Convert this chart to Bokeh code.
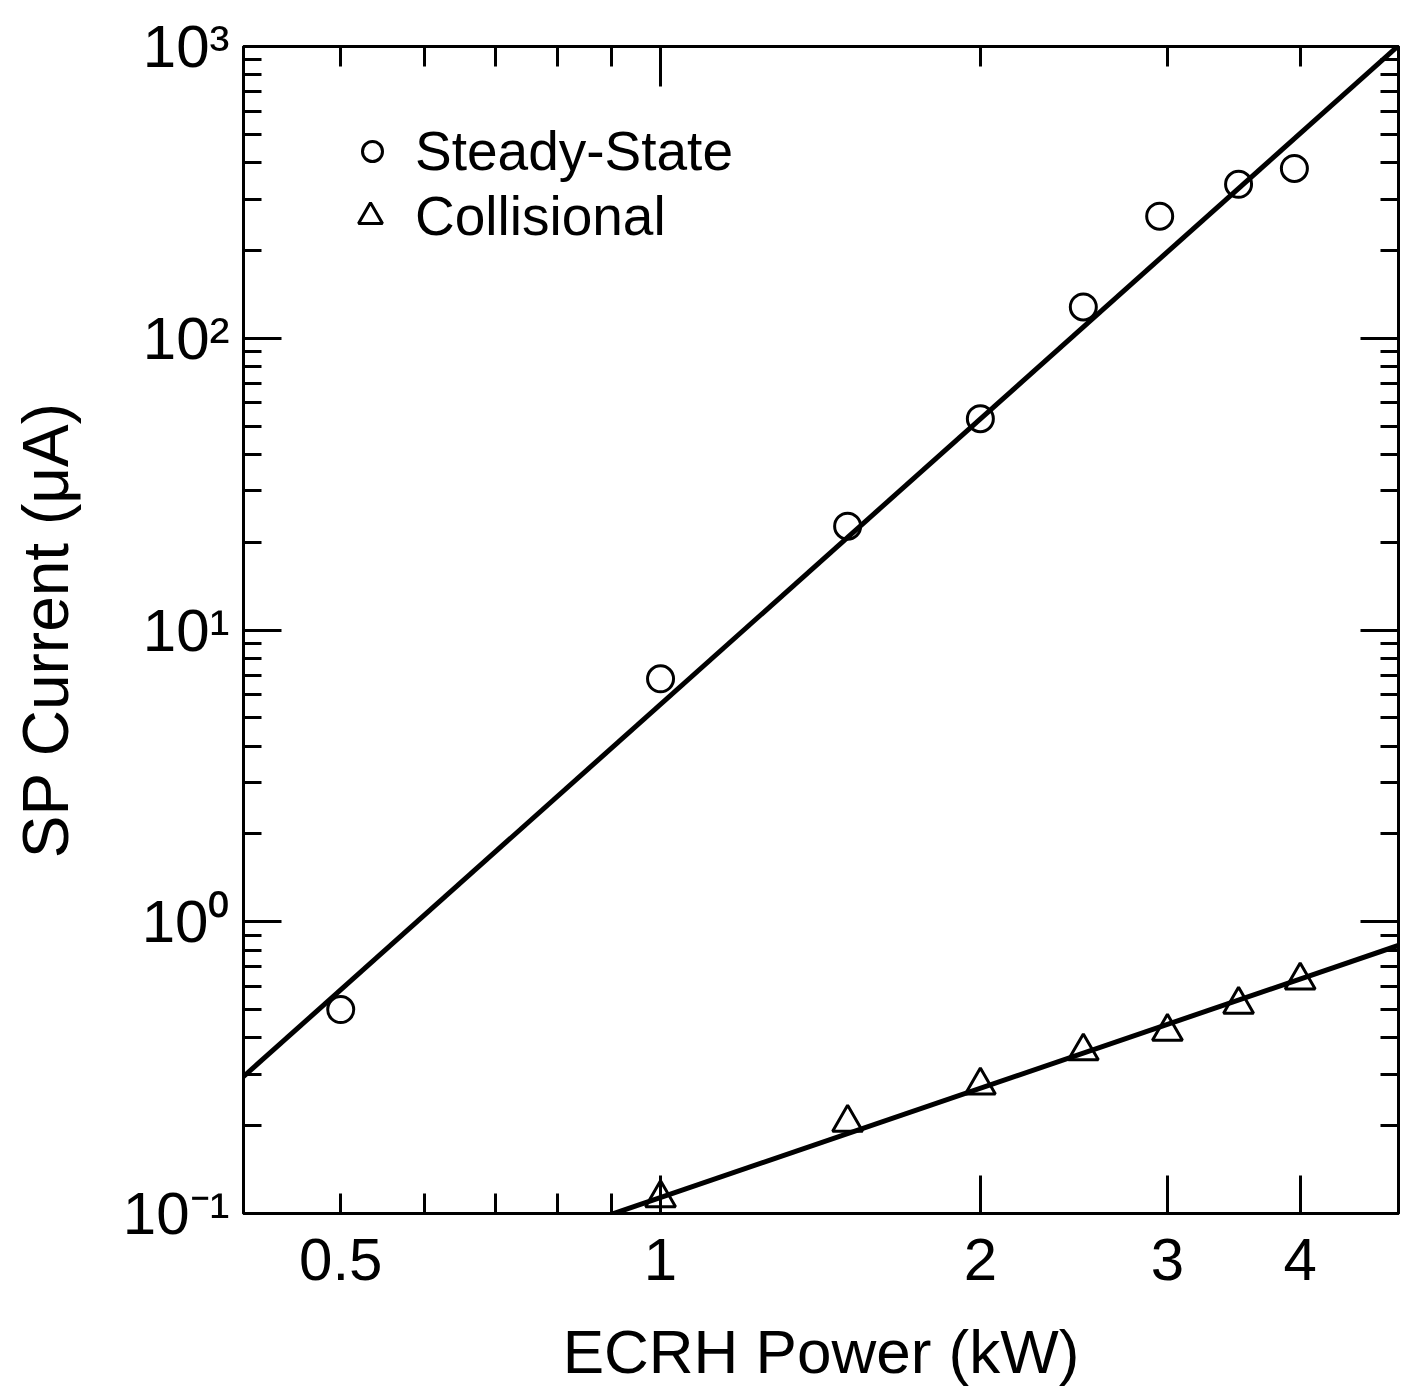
from bokeh.plotting import figure
from bokeh.models import (LogAxis, FixedTicker, Range1d, Legend, LegendItem,
                          CustomJSTickFormatter, Grid)
from bokeh.embed import file_html
from bokeh.resources import INLINE

# ---------------- data ----------------
ss_power = [0.5, 1.0, 1.5, 2.0, 2.5, 2.95, 3.5, 3.95]
ss_current = [0.5, 6.8, 22.7, 53.0, 128.0, 262.0, 337.0, 382.0]

col_power = [1.0, 1.5, 2.0, 2.5, 3.0, 3.5, 4.0]
col_current = [0.113, 0.205, 0.275, 0.36, 0.42, 0.52, 0.63]

ss_fit_power = [0.4, 5.0]
ss_fit_current = [0.283, 1040.0]
col_fit_power = [0.9, 5.0]
col_fit_current = [0.0995, 0.84]

x_label_ticks = [0.5, 1, 2, 3, 4]
x_label_text = ["0.5", "1", "2", "3", "4"]
x_bottom_long = [1, 2, 3, 4]
x_bottom_short = [0.5, 0.6, 0.7, 0.8, 0.9]
x_top_long = [1]
x_top_short = [0.5, 0.6, 0.7, 0.8, 0.9, 2, 3, 4]

y_major = [0.1, 1, 10, 100, 1000]
y_labels = ["10\u207b\u00b9", "10\u2070", "10\u00b9", "10\u00b2", "10\u00b3"]
y_minor = [0.2, 0.3, 0.4, 0.5, 0.6, 0.7, 0.8, 0.9,
           2, 3, 4, 5, 6, 7, 8, 9,
           20, 30, 40, 50, 60, 70, 80, 90,
           200, 300, 400, 500, 600, 700, 800, 900]

FONT = "Liberation Sans"

# ---------------- figure ----------------
p = figure(x_axis_type="log", y_axis_type="log",
           x_range=Range1d(0.405, 4.95), y_range=Range1d(0.1, 1000),
           frame_width=1155, frame_height=1167,
           min_border_left=243, min_border_right=4,
           min_border_top=46, min_border_bottom=10,
           x_axis_location=None, y_axis_location=None,
           output_backend="svg", toolbar_location=None)
p.center = [c for c in p.center if not isinstance(c, Grid)]
p.outline_line_color = "black"
p.outline_line_width = 3
p.background_fill_color = "white"
p.border_fill_color = "white"

LABEL_CODE = """
for (let i = 0; i < vals.length; i++) {
  if (Math.abs(Math.log10(tick) - Math.log10(vals[i])) < 1e-6) { return labs[i]; }
}
return '';
"""


def tick_axis(major, minor, major_len, minor_len):
    return LogAxis(ticker=FixedTicker(ticks=major, minor_ticks=minor),
                   formatter=CustomJSTickFormatter(code="return '';"),
                   major_tick_in=major_len, major_tick_out=0,
                   minor_tick_in=minor_len, minor_tick_out=0,
                   major_tick_line_width=3, minor_tick_line_width=3,
                   axis_line_width=3, axis_line_color="black",
                   major_label_text_font_size="0px", major_label_standoff=0)


# left axis with labels
left = LogAxis(ticker=FixedTicker(ticks=y_major, minor_ticks=y_minor),
               formatter=CustomJSTickFormatter(args=dict(vals=y_major, labs=y_labels),
                                               code=LABEL_CODE),
               major_tick_in=38, major_tick_out=0, minor_tick_in=18, minor_tick_out=0,
               major_tick_line_width=3, minor_tick_line_width=3,
               axis_line_width=3, axis_line_color="black",
               major_label_text_font=FONT, major_label_text_font_size="60px",
               major_label_text_color="black", major_label_standoff=14,
               axis_label="SP Current (\u03bcA)", axis_label_text_font=FONT,
               axis_label_text_font_size="64px", axis_label_text_font_style="normal",
               axis_label_text_color="black", axis_label_standoff=38)
p.add_layout(left, "left")

p.add_layout(tick_axis(y_major, y_minor, 38, 18), "right")
p.add_layout(tick_axis(x_top_long, x_top_short, 40, 20), "above")
p.add_layout(tick_axis(x_bottom_long, x_bottom_short, 38, 20), "below")

bottom = LogAxis(ticker=FixedTicker(ticks=x_label_ticks, minor_ticks=[]),
                 formatter=CustomJSTickFormatter(args=dict(vals=x_label_ticks, labs=x_label_text),
                                                 code=LABEL_CODE),
                 major_tick_in=0, major_tick_out=0, minor_tick_in=0, minor_tick_out=0,
                 axis_line_color=None,
                 major_label_text_font=FONT, major_label_text_font_size="60px",
                 major_label_text_color="black", major_label_standoff=25,
                 axis_label="ECRH Power (kW)", axis_label_text_font=FONT,
                 axis_label_text_font_size="62px", axis_label_text_font_style="normal",
                 axis_label_text_color="black", axis_label_standoff=34)
p.add_layout(bottom, "below")

# ---------------- glyphs ----------------
p.line(ss_fit_power, ss_fit_current, line_width=5, line_color="black")
p.line(col_fit_power, col_fit_current, line_width=5, line_color="black")

ss_r = p.scatter(ss_power, ss_current, marker="circle", size=26,
                 fill_color=None, line_color="black", line_width=3)
col_r = p.scatter(col_power, col_current, marker="triangle", size=30,
                  fill_color=None, line_color="black", line_width=3)

legend_ss = Legend(items=[LegendItem(label="Steady-State", renderers=[ss_r])],
                   location=(104, 1030), padding=0, margin=0,
                   glyph_width=50, glyph_height=50, label_standoff=18,
                   label_text_font=FONT, label_text_font_size="55px",
                   label_text_color="black",
                   border_line_color=None, background_fill_alpha=0)
legend_col = Legend(items=[LegendItem(label="Collisional", renderers=[col_r])],
                    location=(97, 965), padding=0, margin=0,
                    glyph_width=60, glyph_height=60, label_standoff=15,
                    label_text_font=FONT, label_text_font_size="55px",
                    label_text_color="black",
                    border_line_color=None, background_fill_alpha=0)
p.add_layout(legend_ss, "center")
p.add_layout(legend_col, "center")

open("out.html", "w").write(file_html(p, INLINE))
